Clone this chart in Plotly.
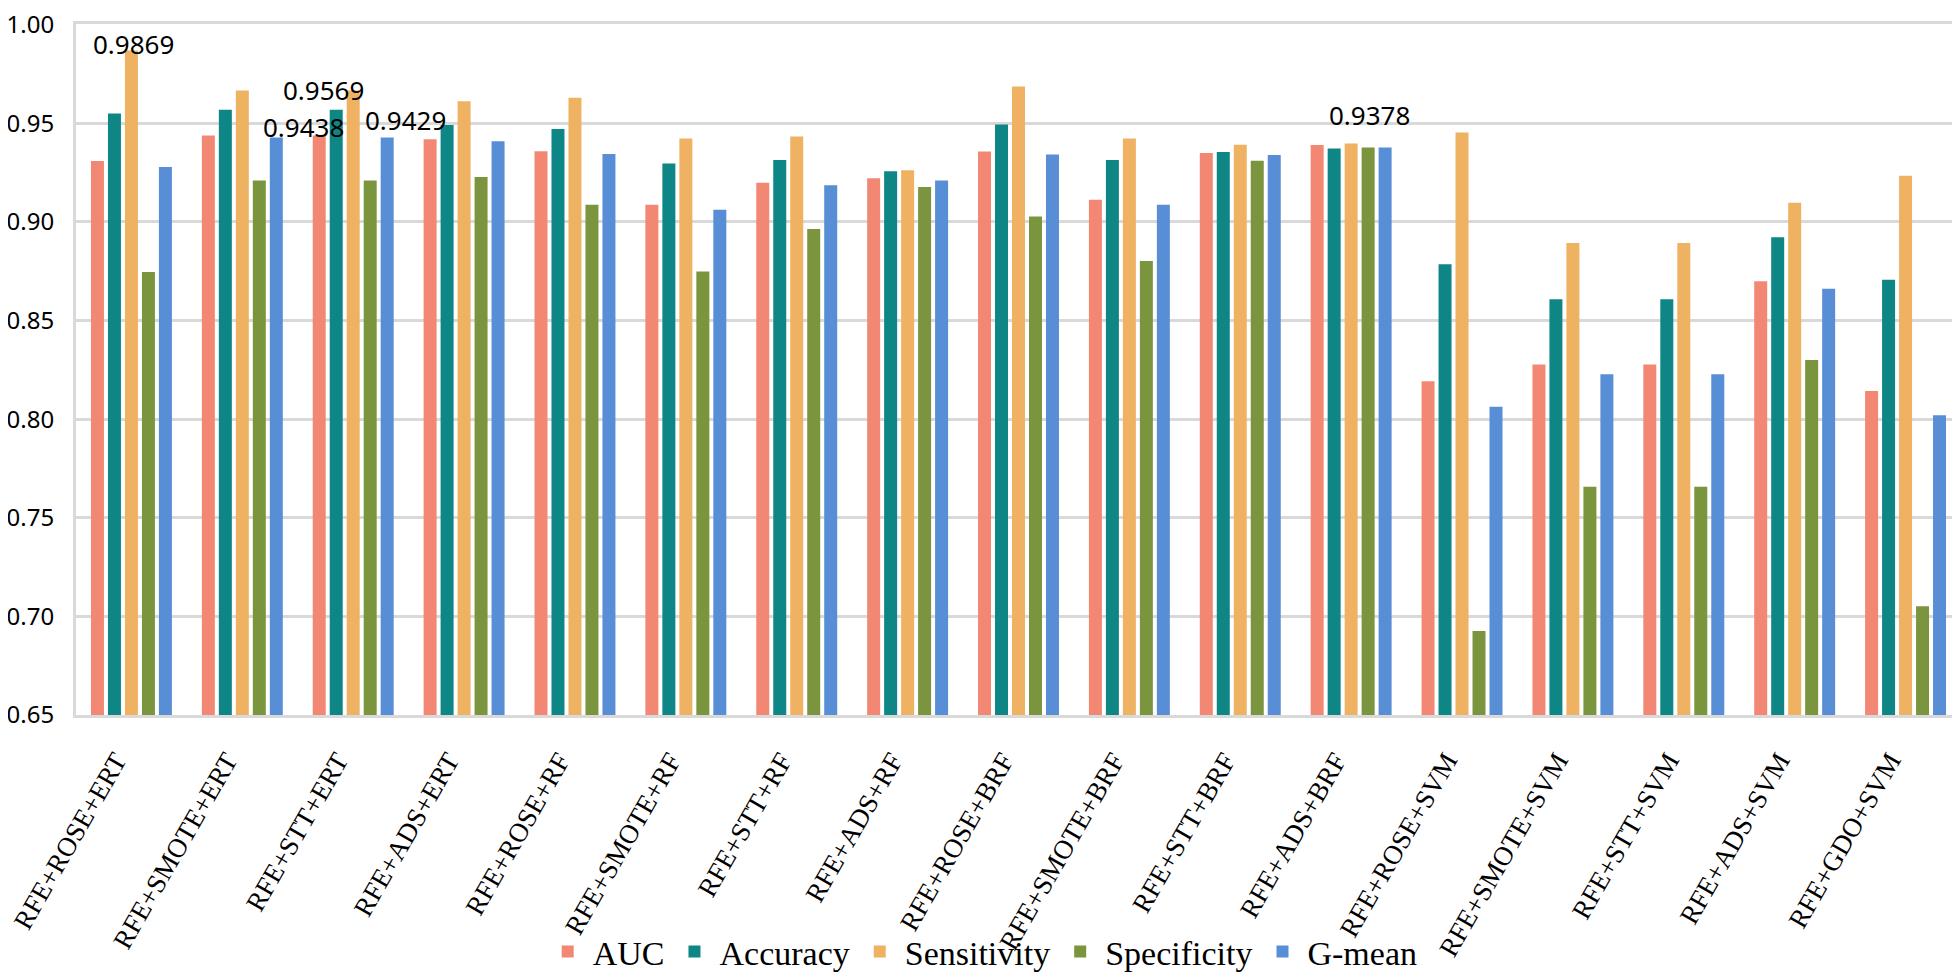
import plotly.graph_objects as go

categories = ["RFE+ROSE+ERT", "RFE+SMOTE+ERT", "RFE+STT+ERT", "RFE+ADS+ERT",
              "RFE+ROSE+RF", "RFE+SMOTE+RF", "RFE+STT+RF", "RFE+ADS+RF",
              "RFE+ROSE+BRF", "RFE+SMOTE+BRF", "RFE+STT+BRF", "RFE+ADS+BRF",
              "RFE+ROSE+SVM", "RFE+SMOTE+SVM", "RFE+STT+SVM", "RFE+ADS+SVM", "RFE+GDO+SVM"]

auc = [0.9309, 0.9438, 0.9438, 0.9419, 0.9359, 0.9087, 0.9199, 0.9222, 0.9357, 0.9113,
       0.9350, 0.9390, 0.8193, 0.8277, 0.8277, 0.8700, 0.8143]
accuracy = [0.9550, 0.9569, 0.9569, 0.9492, 0.9472, 0.9296, 0.9314, 0.9257, 0.9494, 0.9314,
            0.9355, 0.9373, 0.8786, 0.8608, 0.8608, 0.8923, 0.8707]
sensitivity = [0.9869, 0.9667, 0.9667, 0.9612, 0.9630, 0.9424, 0.9434, 0.9263, 0.9687, 0.9424,
               0.9392, 0.9398, 0.9454, 0.8894, 0.8894, 0.9098, 0.9234]
specificity = [0.8746, 0.9210, 0.9210, 0.9228, 0.9087, 0.8749, 0.8965, 0.9178, 0.9028, 0.8802,
               0.9311, 0.9378, 0.6926, 0.7657, 0.7657, 0.8300, 0.7051]
gmean = [0.9279, 0.9429, 0.9429, 0.9410, 0.9345, 0.9062, 0.9186, 0.9210, 0.9342, 0.9087,
         0.9340, 0.9378, 0.8063, 0.8228, 0.8228, 0.8662, 0.8020]

series_names = ["AUC", "Accuracy", "Sensitivity", "Specificity", "G-mean"]
series_values = [auc, accuracy, sensitivity, specificity, gmean]
colors = ["#F28874", "#0E8686", "#EEB262", "#7A953D", "#578ED5"]

y_ticks = [0.65, 0.70, 0.75, 0.80, 0.85, 0.90, 0.95, 1.00]
y_ticktext = ["0.65", "0.70", "0.75", "0.80", "0.85", "0.90", "0.95", "1.00"]

# highlighted data labels: (category index, series index, xshift px, yshift px)
label_specs = [(0, 2, 2, 7), (2, 1, -30, 20), (2, 0, -50, 9), (2, 4, 52, 17), (11, 3, 18, 32)]

SERIF = "Liberation Serif"
SANS = "Noto Sans"

positions = list(range(len(categories)))
label_offset = 0.14  # rotated category labels end slightly left of the group centre

fig = go.Figure()
for name, vals, col in zip(series_names, series_values, colors):
    fig.add_trace(go.Bar(x=positions, y=vals, name=name, marker_color=col,
                         marker_line_width=0))

for ci, si, xs, ys in label_specs:
    v = series_values[si][ci]
    fig.add_annotation(x=positions[ci], y=v, text=f"{v:.4f}", showarrow=False,
                       xshift=xs, yshift=ys, yanchor="middle", xanchor="center",
                       font=dict(family=SANS, size=26, color="black"))

fig.update_layout(
    width=1960, height=980,
    font=dict(family=SERIF, size=28, color="black"),
    barmode="group", bargap=0.234, bargroupgap=0.235,
    plot_bgcolor="white", paper_bgcolor="white",
    margin=dict(l=68, r=7, t=16, b=258),
    legend=dict(orientation="h", x=0.481, xanchor="center", y=-0.343, yanchor="middle",
                font=dict(family=SERIF, size=34, color="black"),
                bgcolor="rgba(0,0,0,0)",
                itemwidth=40, tracegroupgap=0),
    showlegend=True,
)
fig.update_yaxes(range=[0.65, 1.0004], tickvals=y_ticks, ticktext=y_ticktext,
                 showgrid=True, gridcolor="#D9D9D9", gridwidth=3,
                 showline=True, linecolor="#D9D9D9", linewidth=3, mirror=True,
                 ticks="", ticklabelstandoff=14, ticklabeloverflow="allow", automargin=False,
                 tickfont=dict(family=SANS, size=24, color="black"), zeroline=False)
fig.update_xaxes(range=[-0.5, 16.5], tickangle=-60,
                 tickvals=[p - label_offset for p in positions], ticktext=categories,
                 showgrid=False, zeroline=False,
                 showline=True, linecolor="#D9D9D9", linewidth=3, mirror=True,
                 ticks="", ticklabelstandoff=16, ticklabeloverflow="allow", automargin=False,
                 tickfont=dict(family=SERIF, size=27, color="black"))

fig.write_html("out.html")
